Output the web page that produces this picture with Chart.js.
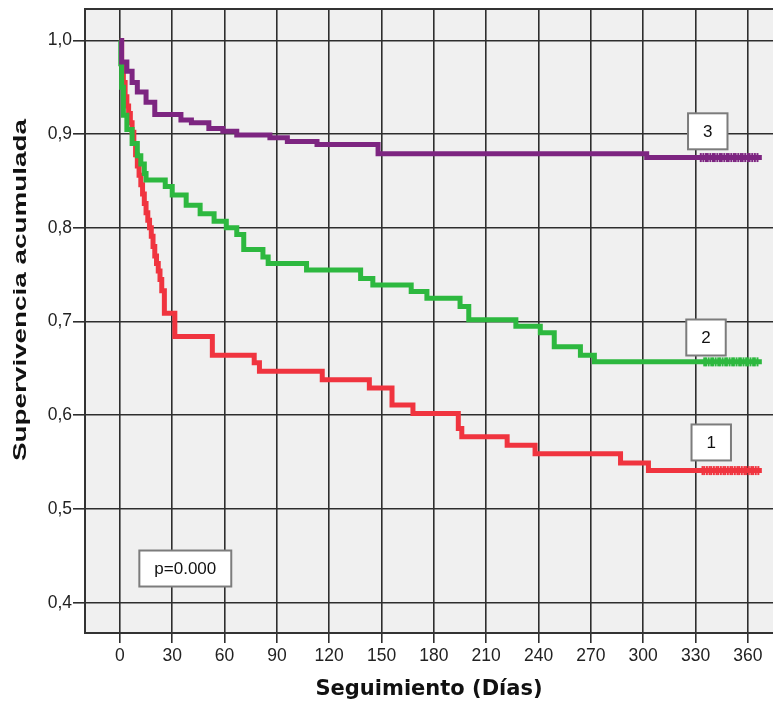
<!DOCTYPE html>
<html>
<head>
<meta charset="utf-8">
<script src="https://cdn.jsdelivr.net/npm/chart.js@4.4.1/dist/chart.umd.min.js"></script>
<style>
  html, body { margin: 0; padding: 0; background: #fff; }
  #wrap { width: 773px; height: 704px; }
</style>
</head>
<body>
<div id="wrap"><canvas id="kmChart" width="773" height="704"></canvas></div>
<script>
// curvas de Kaplan-Meier (dias, supervivencia)
const redDays = [0, 1, 2, 3, 4, 5, 6, 7, 8, 9, 10, 11, 12, 13, 14, 15, 16, 17, 18, 19, 20, 21, 22, 23, 24, 25.5, 31.5, 53, 77, 80, 116, 143, 156, 168, 194, 196, 222, 238, 287, 303, 368];
const redSurv = [1.0, 0.975, 0.955, 0.94, 0.93, 0.922, 0.912, 0.902, 0.89, 0.878, 0.866, 0.856, 0.846, 0.836, 0.826, 0.816, 0.808, 0.8, 0.791, 0.78, 0.77, 0.762, 0.754, 0.745, 0.733, 0.709, 0.684, 0.664, 0.656, 0.647, 0.638, 0.629, 0.611, 0.602, 0.586, 0.577, 0.568, 0.559, 0.549, 0.541, 0.541];

const greenDays = [0, 0.5, 1, 2, 4, 7, 10, 12, 14, 15, 26, 30, 38, 46, 54, 61, 67, 71, 82, 85, 107, 138, 145, 167, 176, 195, 200, 227, 241, 249, 264, 272, 368];
const greenSurv = [1.0, 0.975, 0.95, 0.92, 0.905, 0.89, 0.877, 0.868, 0.858, 0.851, 0.844, 0.835, 0.824, 0.815, 0.807, 0.8, 0.793, 0.777, 0.769, 0.762, 0.755, 0.746, 0.739, 0.732, 0.725, 0.716, 0.702, 0.695, 0.688, 0.673, 0.664, 0.657, 0.657];

const purpleDays = [0, 1, 4, 7, 10, 15, 20, 35, 41, 51, 59, 67, 86, 96, 113, 148, 302, 368];
const purpleSurv = [1.0, 0.977, 0.967, 0.955, 0.945, 0.934, 0.921, 0.915, 0.912, 0.906, 0.903, 0.899, 0.896, 0.892, 0.889, 0.879, 0.875, 0.875];

// casos censurados al final del seguimiento
const redCens = [334, 335, 336.5, 338, 339, 340.5, 342, 343, 344.5, 346, 347, 348.5, 350, 351, 352.5, 354, 355, 356.5, 358, 359, 360.5, 362, 363, 364.5, 366];
const greenCens = [335, 336, 337.5, 339, 340, 341.5, 343, 344, 345.5, 347, 348, 349.5, 351, 352, 353.5, 355, 356, 357.5, 359, 360, 361.5, 363, 364, 365.5];
const purpleCens = [333, 334.5, 336, 337, 338.5, 340, 341, 342.5, 344, 345, 346.5, 348, 349, 350.5, 352, 353, 354.5, 356, 357, 358.5, 360, 361, 362.5, 364, 365.5];

const dayTicks = [0, 30, 60, 90, 120, 150, 180, 210, 240, 270, 300, 330, 360];
const survTicks = [0.4, 0.5, 0.6, 0.7, 0.8, 0.9, 1.0];

const xTitle = 'Seguimiento (Días)';
const yTitle = 'Supervivencia acumulada';

function toPoints(days, surv) {
    return days.map((d, i) => ({ x: d, y: surv[i] }));
}
function censPoints(days, surv) {
    const last = surv[surv.length - 1];
    return days.map(d => ({ x: d, y: last }));
}

const gridColor = '#2e2e2e';
const RED = '#f0343f', GREEN = '#2db83f', PURPLE = '#7d2581';

// order: el numero menor queda encima (morado > verde > rojo)
function curve(data, color, order) {
    return {
        data: data,
        order: order,
        borderColor: color,
        backgroundColor: color,
        borderWidth: 5,
        stepped: 'before',
        pointRadius: 0,
        borderJoinStyle: 'miter',
        borderCapStyle: 'butt',
        fill: false
    };
}
function marks(data, color, order) {
    return {
        data: data,
        order: order,
        showLine: false,
        pointStyle: 'line',
        pointRotation: 90,
        pointRadius: 4.5,
        pointBorderWidth: 2,
        pointBorderColor: color,
        pointBackgroundColor: color
    };
}

const kmPlugin = {
    id: 'kmExtras',
    beforeDraw(chart) {
        const { ctx, chartArea: a } = chart;
        ctx.save();
        ctx.fillStyle = '#f0f0f0';
        ctx.fillRect(a.left, a.top, a.right - a.left, a.bottom - a.top);
        ctx.restore();
    },
    beforeDatasetsDraw(chart) {
        const { ctx, chartArea: a } = chart;
        ctx.save();
        ctx.strokeStyle = '#333';
        ctx.lineWidth = 2;
        ctx.beginPath();
        ctx.moveTo(a.right, a.top);
        ctx.lineTo(a.left, a.top);
        ctx.lineTo(a.left, a.bottom);
        ctx.lineTo(a.right, a.bottom);
        ctx.stroke();
        ctx.restore();
    },
    afterDatasetsDraw(chart, args, opts) {
        const { ctx } = chart;
        const xs = chart.scales.x, ys = chart.scales.y;
        ctx.save();
        ctx.font = '17px "Liberation Sans", Arial, sans-serif';
        ctx.textAlign = 'center';
        ctx.textBaseline = 'middle';
        opts.boxes.forEach(b => {
            const cx = xs.getPixelForValue(b.x), cy = ys.getPixelForValue(b.y);
            const w = ctx.measureText(b.text).width + 30, h = 36;
            ctx.fillStyle = '#fff';
            ctx.fillRect(cx - w / 2, cy - h / 2, w, h);
            ctx.strokeStyle = '#7c7c7c';
            ctx.lineWidth = 2;
            ctx.strokeRect(cx - w / 2, cy - h / 2, w, h);
            ctx.fillStyle = '#111';
            ctx.fillText(b.text, cx, cy + 1);
        });
        ctx.restore();
    },
    afterDraw(chart) {
        const { ctx } = chart;
        ctx.save();
        ctx.font = 'bold 19px "Liberation Sans", Arial, sans-serif';
        const w = ctx.measureText(yTitle).width;
        ctx.translate(21, 290);
        ctx.rotate(-Math.PI / 2);
        ctx.scale(342 / w, 1);
        ctx.textAlign = 'center';
        ctx.textBaseline = 'middle';
        ctx.fillStyle = '#111';
        ctx.fillText(yTitle, 0, 0);
        ctx.restore();
    }
};

Chart.defaults.font.family = '"Liberation Sans", Arial, sans-serif';
Chart.defaults.color = '#222';

const ctx = document.getElementById('kmChart').getContext('2d');

new Chart(ctx, {
    type: 'line',
    data: {
        datasets: [
            curve(toPoints(redDays, redSurv), RED, 3),
            curve(toPoints(greenDays, greenSurv), GREEN, 2),
            curve(toPoints(purpleDays, purpleSurv), PURPLE, 1),
            marks(censPoints(redCens, redSurv), RED, 3),
            marks(censPoints(greenCens, greenSurv), GREEN, 2),
            marks(censPoints(purpleCens, purpleSurv), PURPLE, 1)
        ]
    },
    options: {
        responsive: false,
        animation: false,
        layout: { autoPadding: false, padding: { top: 9, right: 0, left: 0, bottom: 0 } },
        plugins: {
            legend: { display: false },
            tooltip: { enabled: false },
            kmExtras: {
                boxes: [
                    { text: '3', x: 337, y: 0.903 },
                    { text: '2', x: 336, y: 0.683 },
                    { text: '1', x: 339, y: 0.571 },
                    { text: 'p=0.000', x: 37.5, y: 0.4365 }
                ]
            }
        },
        scales: {
            x: {
                type: 'linear',
                min: -20,
                max: 374.4,
                afterBuildTicks: s => { s.ticks = dayTicks.map(v => ({ value: v })); },
                afterFit: s => { s.height = 71; s.paddingLeft = 0; s.paddingRight = 0; },
                border: { display: false },
                grid: { color: gridColor, lineWidth: 1.6, tickLength: 10 },
                ticks: { font: { size: 17.5 }, padding: 3, maxRotation: 0, autoSkip: false },
                title: {
                    display: true,
                    text: xTitle,
                    color: '#111',
                    font: { family: '"DejaVu Sans", sans-serif', size: 21, weight: 'bold' },
                    padding: { top: 0, bottom: 2 }
                }
            },
            y: {
                min: 0.3677,
                max: 1.0335,
                afterBuildTicks: s => { s.ticks = survTicks.map(v => ({ value: v })); },
                afterFit: s => { s.width = 85; s.paddingTop = 0; s.paddingBottom = 0; },
                border: { display: false },
                grid: { color: gridColor, lineWidth: 1.6, tickLength: 12 },
                ticks: {
                    font: { size: 17.5 },
                    padding: 1,
                    callback: v => v.toFixed(1).replace('.', ',')
                }
            }
        }
    },
    plugins: [kmPlugin]
});
</script>
</body>
</html>
